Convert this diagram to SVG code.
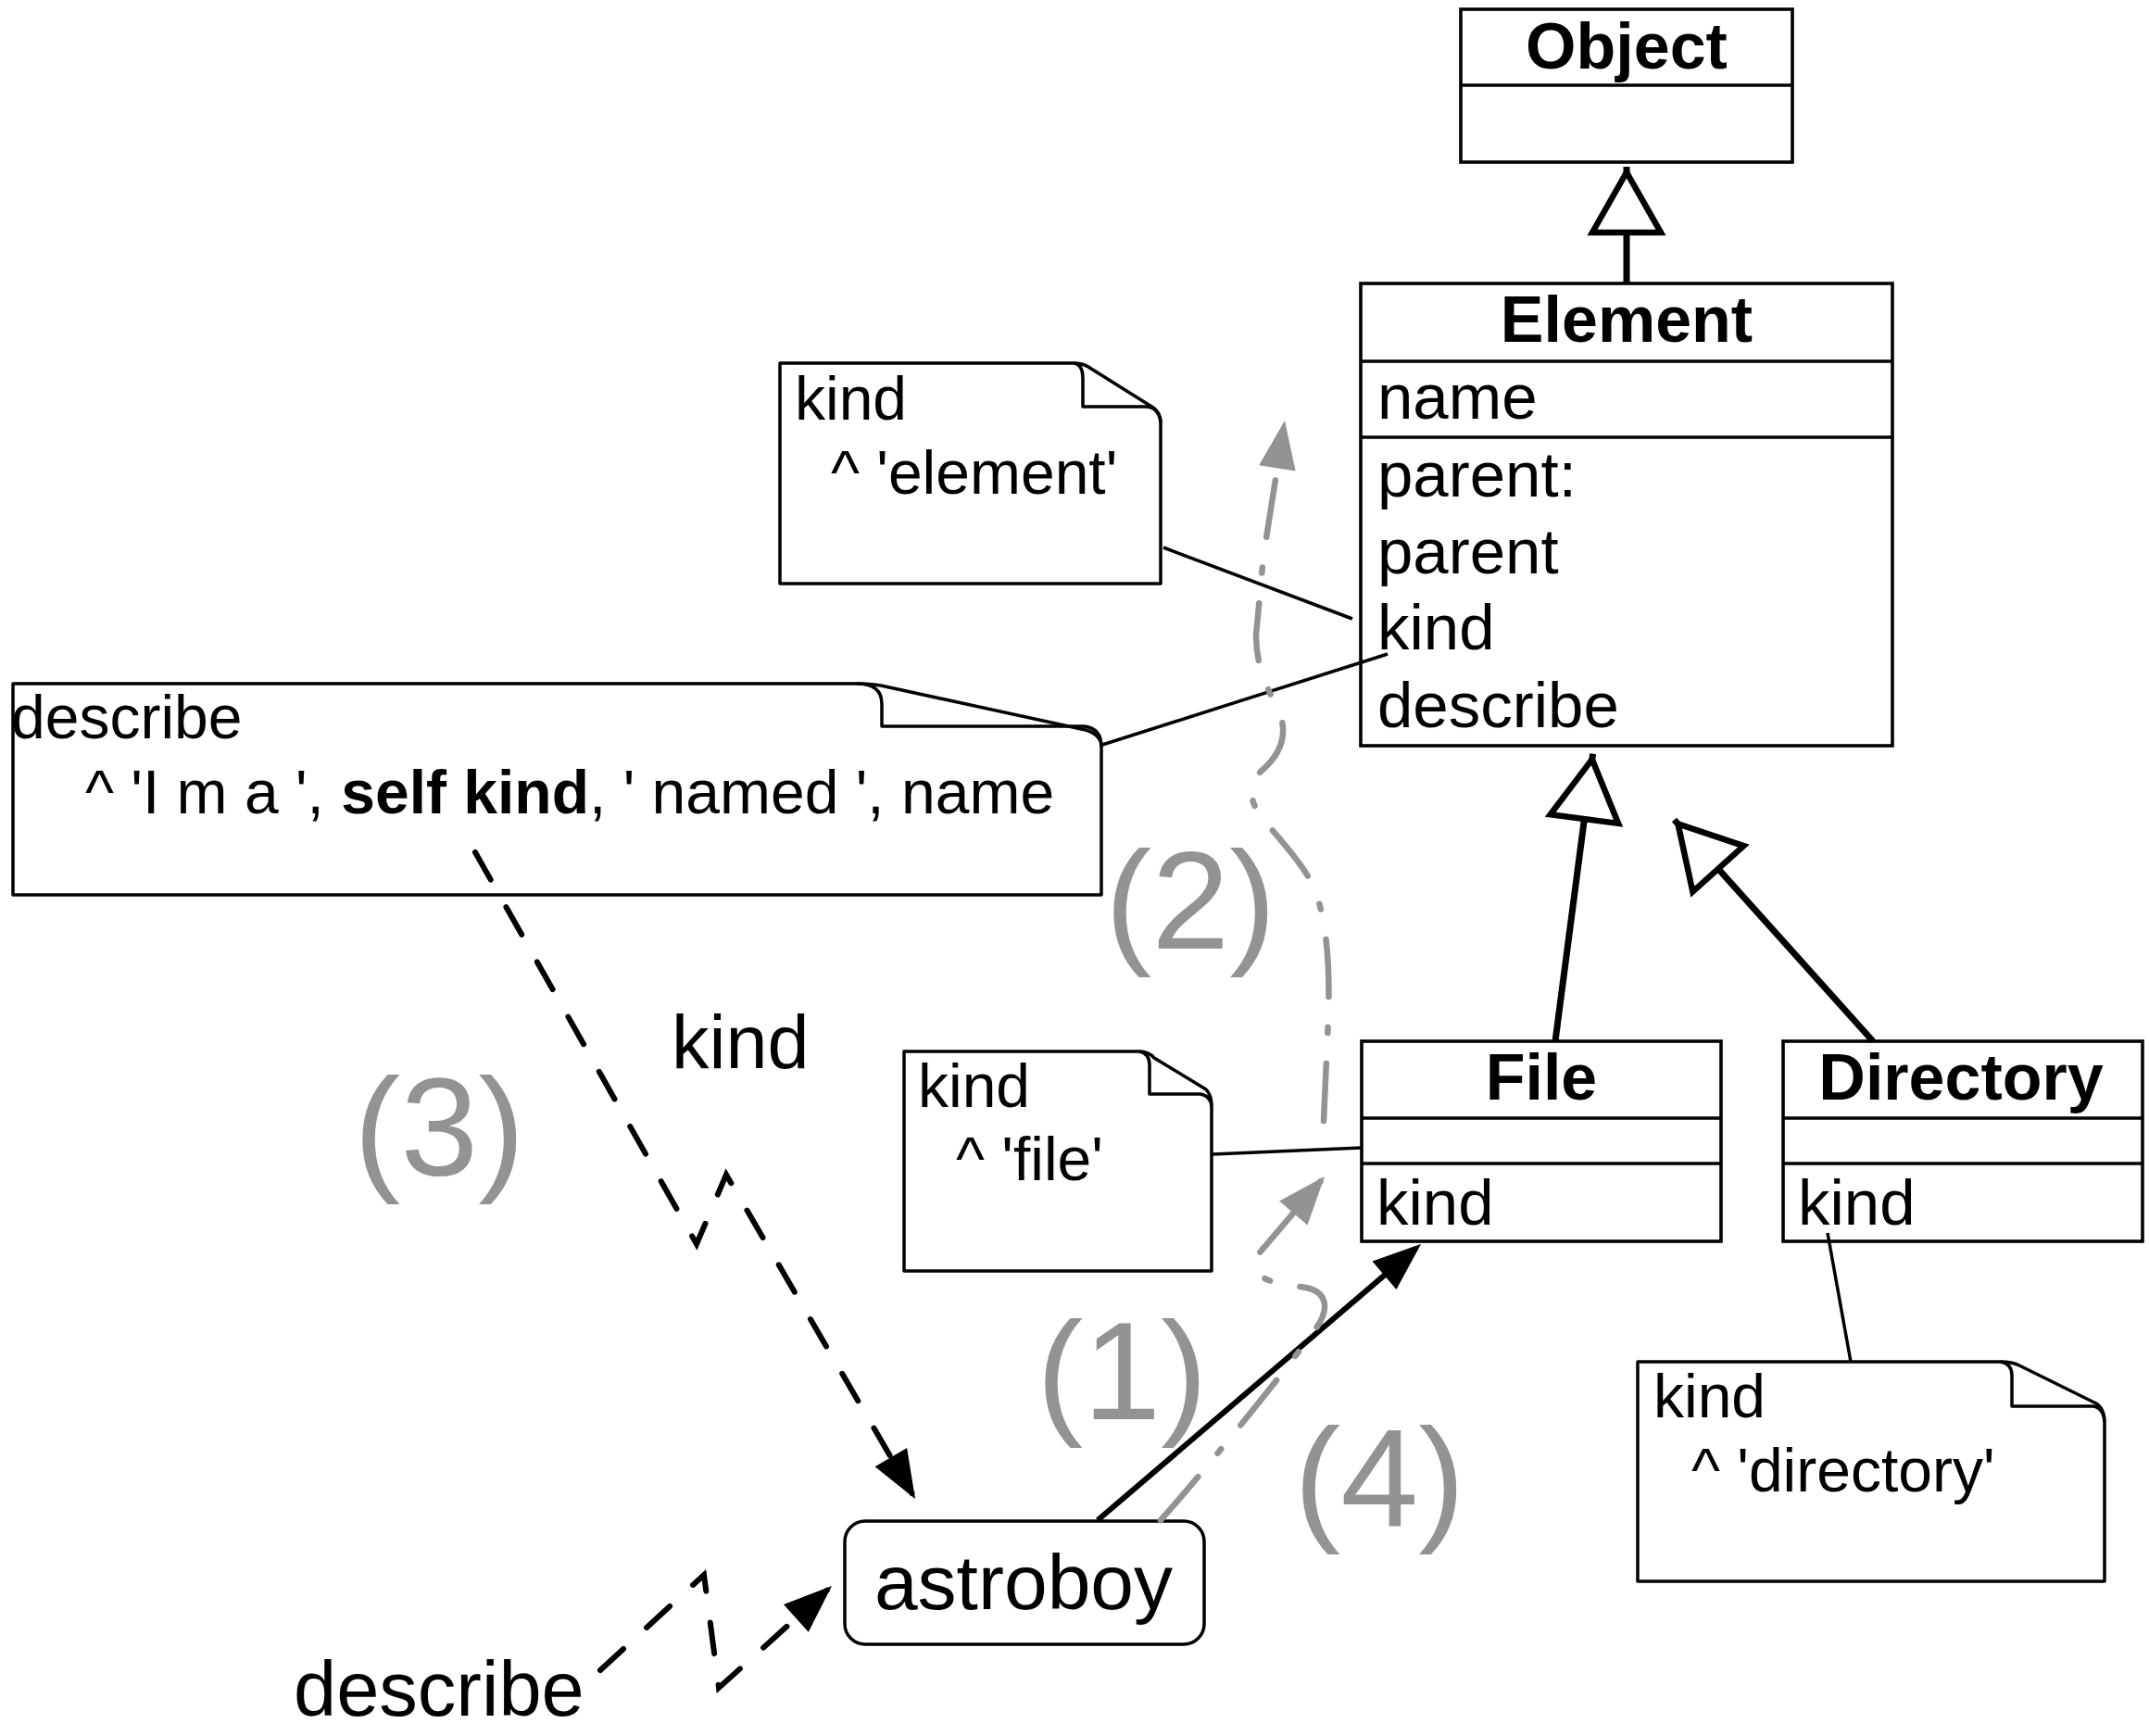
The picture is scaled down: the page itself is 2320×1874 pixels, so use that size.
<svg xmlns="http://www.w3.org/2000/svg" width="2320" height="1874" viewBox="0 0 2320 1874">
<style>
.t{font-family:"Liberation Sans",Arial,Helvetica,sans-serif;fill:#000}
.cls{font-size:70px;font-weight:bold;text-anchor:middle}
.attr{font-size:69px}
.nt{font-size:66px}
.num{font-size:151px;fill:#939393}
.box{fill:#fff;stroke:#000;stroke-width:3.6}
.note{fill:#fff;stroke:#000;stroke-width:3.5;stroke-linejoin:round}
.fold{fill:none;stroke:#000;stroke-width:3.5;stroke-linejoin:round}
.gen{fill:none;stroke:#000;stroke-width:7}
.link{fill:none;stroke:#000;stroke-width:3.5}
.call{fill:none;stroke:#000;stroke-width:6}
.dash{fill:none;stroke:#000;stroke-width:6;stroke-dasharray:34 34;stroke-linecap:round}
.gray{fill:none;stroke:#939393;stroke-width:6.5;stroke-dasharray:62 33 6 33;stroke-linecap:round}
</style>
<defs>
<marker id="gen" viewBox="0 0 80 82" refX="75" refY="41" markerWidth="80" markerHeight="82" markerUnits="userSpaceOnUse" orient="auto" overflow="visible"><path d="M4,4 L69,41 L4,78 Z" fill="#fff" stroke="#000" stroke-width="6.5"/></marker>
<marker id="arr" viewBox="0 0 52 40" refX="45" refY="20" markerWidth="52" markerHeight="40" markerUnits="userSpaceOnUse" orient="auto" overflow="visible"><path d="M0,0 L52,20 L0,40 Z" fill="#000"/></marker>
<marker id="arrg" viewBox="0 0 52 40" refX="45" refY="20" markerWidth="52" markerHeight="40" markerUnits="userSpaceOnUse" orient="auto" overflow="visible"><path d="M0,0 L52,20 L0,40 Z" fill="#939393"/></marker>
</defs>
<rect width="2320" height="1874" fill="#fff"/>

<g id="Object">
<rect class="box" x="1577" y="10" width="358" height="165"/>
<line class="box" x1="1577" y1="92" x2="1935" y2="92"/>
<text class="t cls" x="1756" y="74">Object</text>
</g>

<g id="Element">
<rect class="box" x="1469" y="306" width="574" height="499"/>
<line class="box" x1="1469" y1="390" x2="2043" y2="390"/>
<line class="box" x1="1469" y1="472" x2="2043" y2="472"/>
<text class="t cls" x="1756" y="369">Element</text>
<text class="t attr" x="1487" y="452">name</text>
<text class="t attr" x="1487" y="536">parent:</text>
<text class="t attr" x="1487" y="619">parent</text>
<text class="t attr" x="1487" y="701">kind</text>
<text class="t attr" x="1487" y="785">describe</text>
</g>

<g id="File">
<rect class="box" x="1470" y="1124" width="388" height="216"/>
<line class="box" x1="1470" y1="1207" x2="1858" y2="1207"/>
<line class="box" x1="1470" y1="1256" x2="1858" y2="1256"/>
<text class="t cls" x="1664" y="1187">File</text>
<text class="t attr" x="1486" y="1322">kind</text>
</g>

<g id="Directory">
<rect class="box" x="1925" y="1124" width="388" height="216"/>
<line class="box" x1="1925" y1="1207" x2="2313" y2="1207"/>
<line class="box" x1="1925" y1="1256" x2="2313" y2="1256"/>
<text class="t cls" x="2117" y="1187">Directory</text>
<text class="t attr" x="1941" y="1322">kind</text>
</g>

<g id="note-element">
<path class="note" d="M842,392 L1160,392 Q1170,392 1178,398 L1245,440 Q1253,446 1253,456 L1253,630 L842,630 Z"/>
<path class="fold" d="M1160,392 Q1169,394 1169,408 L1169,439 L1238,439 Q1251,440 1253,456"/>
<text class="t nt" x="858" y="453">kind</text>
<text class="t nt" x="897" y="533">^ 'element'</text>
</g>

<g id="note-describe">
<path class="note" d="M14,738 L925,738 Q945,738 960,742 L1172,788 Q1189,793 1189,806 L1189,966 L14,966 Z"/>
<path class="fold" d="M925,738 Q952,738 952,760 L952,784 L1170,784 Q1189,786 1189,806"/>
<text class="t nt" x="12" y="797">describe</text>
<text class="t nt" x="92" y="878">^ 'I m a ', <tspan font-weight="bold">self kind</tspan>, ' named ', name</text>
</g>

<g id="note-file">
<path class="note" d="M976,1135 L1230,1135 Q1240,1135 1246,1142 L1302,1176 Q1308,1182 1308,1194 L1308,1372 L976,1372 Z"/>
<path class="fold" d="M1230,1135 Q1241,1137 1241,1150 L1241,1181 L1296,1181 Q1307,1183 1308,1194"/>
<text class="t nt" x="991" y="1195">kind</text>
<text class="t nt" x="1032" y="1274">^ 'file'</text>
</g>

<g id="note-directory">
<path class="note" d="M1768,1470 L2160,1470 Q2172,1470 2180,1474 L2263,1515 Q2272,1521 2272,1535 L2272,1707 L1768,1707 Z"/>
<path class="fold" d="M2160,1470 Q2172,1472 2172,1485 L2172,1518 L2260,1518 Q2271,1520 2272,1535"/>
<text class="t nt" x="1785" y="1530">kind</text>
<text class="t nt" x="1826" y="1610">^ 'directory'</text>
</g>

<g id="astroboy">
<rect x="912" y="1642" width="388" height="133" rx="22" ry="22" fill="#fff" stroke="#000" stroke-width="3.5"/>
<text class="t" x="1105" y="1737" font-size="84" text-anchor="middle">astroboy</text>
</g>

<g id="connectors">
<path class="gen" d="M1756,306 L1756,180" marker-end="url(#gen)"/>
<path class="gen" d="M1679,1124 L1719.6,813.7" marker-end="url(#gen)"/>
<path class="gen" d="M2022,1124 L1807.5,885" marker-end="url(#gen)"/>
<path class="link" d="M1256,591 L1460,668"/>
<path class="link" d="M1190,804 L1498,706"/>
<path class="link" d="M1309,1246 L1470,1239"/>
<path class="link" d="M1973,1331 L1998,1470"/>
<path class="call" d="M1185,1641 L1528.7,1347.5" marker-end="url(#arr)"/>
<path class="dash" d="M513,920 L752,1343 L784,1268 L984.5,1612" marker-end="url(#arr)"/>
<path class="dash" d="M648,1803 L760,1700 L776,1822 L892.8,1716.7" marker-end="url(#arr)"/>
<path class="gray" d="M1429,1210 L1434,1100 C1436,1040 1432,995 1420,962 C1408,932 1380,905 1360,880 C1348,862 1348,845 1362,832 C1385,812 1392,790 1378,762 C1365,738 1356,715 1356,686 L1364,600 L1385.9,460.9" marker-end="url(#arrg)"/>
<path class="gray" d="M1253,1641 C1290,1600 1380,1490 1420,1435 C1438,1410 1430,1394 1410,1390 L1385,1386 C1360,1382 1350,1372 1360,1352 L1425.5,1275.3" marker-end="url(#arrg)"/>
</g>

<g id="labels">
<text class="t" x="725" y="1153" font-size="81">kind</text>
<text class="t" x="317" y="1852" font-size="83">describe</text>
<text class="t num" x="1119" y="1532">(1)</text>
<text class="t num" x="1193" y="1024">(2)</text>
<text class="t num" x="382" y="1269">(3)</text>
<text class="t num" x="1397" y="1647">(4)</text>
</g>
</svg>
